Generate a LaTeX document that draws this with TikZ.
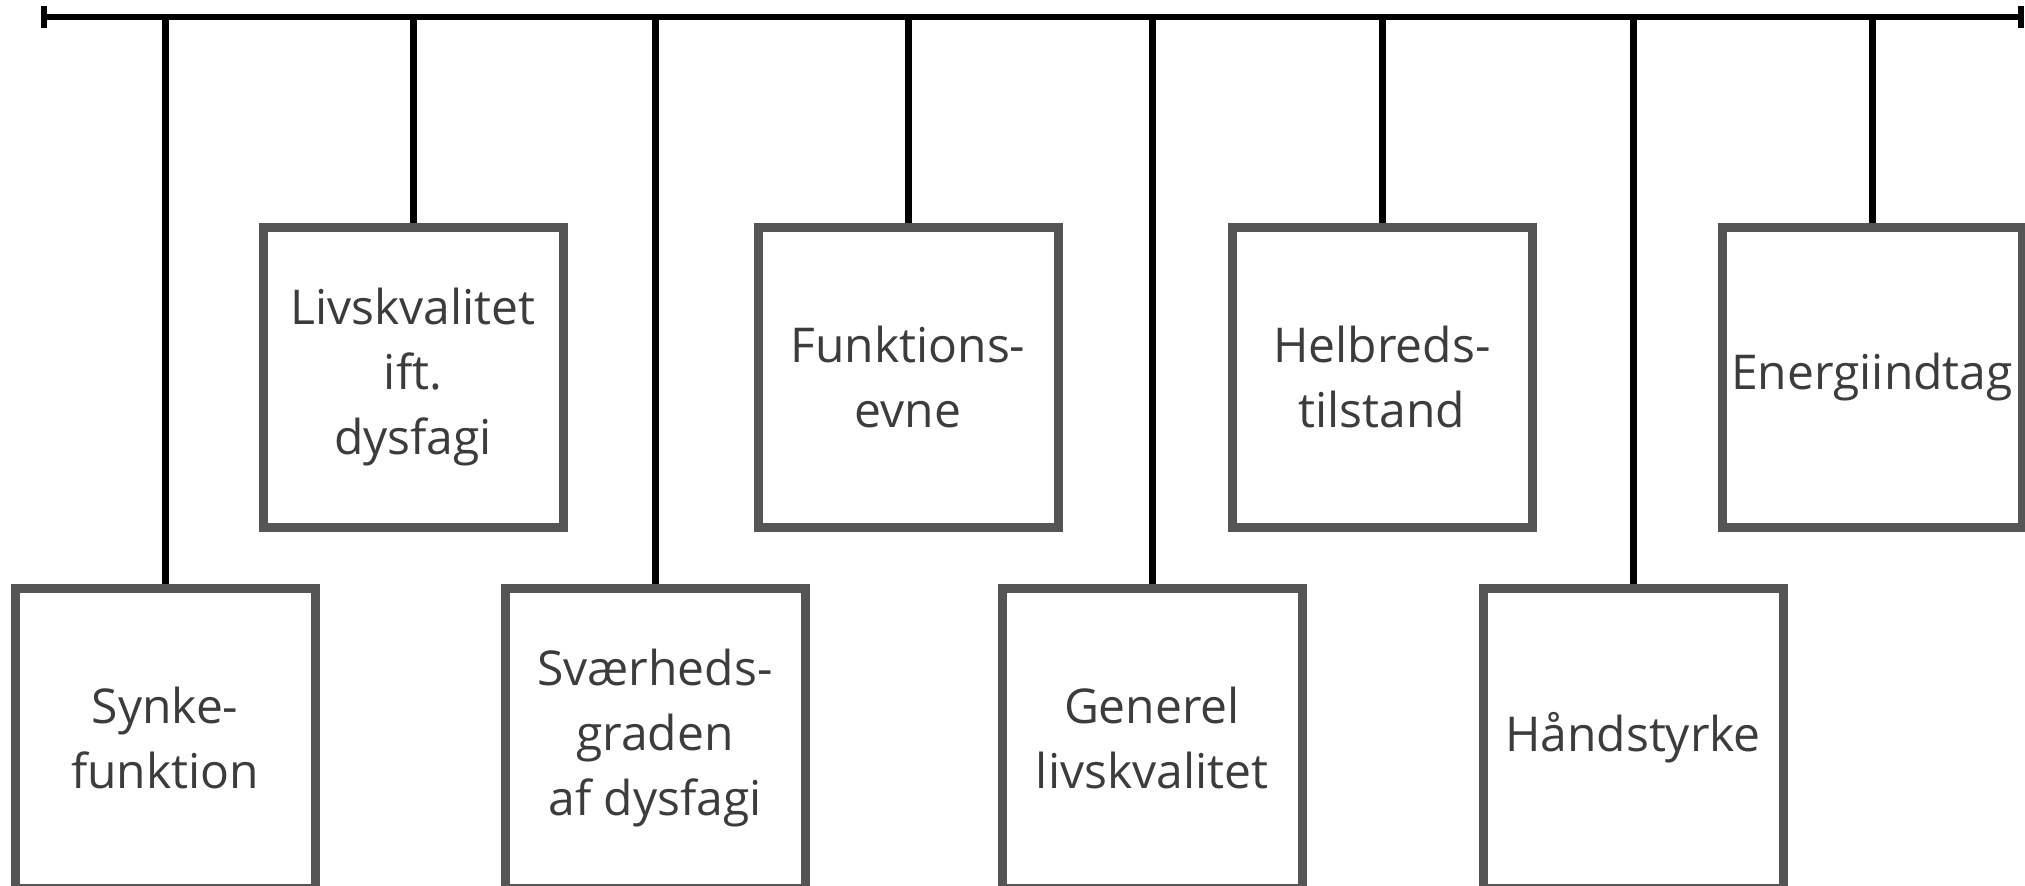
\documentclass[tikz,border=0pt]{standalone}
\usepackage{fontspec}
\setmainfont{Open Sans}
\usetikzlibrary{arrows.meta}
\definecolor{boxgray}{HTML}{555555}
\definecolor{txtgray}{HTML}{3C3C3C}

\begin{document}
\begin{tikzpicture}[x=0.5pt,y=-0.5pt,
   outcome/.style={draw=boxgray,line width=4.5pt,fill=white,inner sep=0pt,
                   minimum width=150pt,minimum height=150pt,align=center,
                   text=txtgray,font=\fontsize{24}{32.5}\selectfont},
   stem/.style={line width=3.5pt,line cap=butt}]
   \useasboundingbox (0,0) rectangle (2025,885);
   \coordinate (left)  at (41,17);
   \coordinate (right) at (2024,17);
   \node[outcome] (synke)  at (165,738)  {Synke-\\funktion};
   \node[outcome] (livs)   at (413,377)  {Livskvalitet\\ift.\\dysfagi};
   \node[outcome] (svaer)  at (655,738)  {Sværheds-\\graden\\af dysfagi};
   \node[outcome] (funk)   at (908,377)  {Funktions-\\evne};
   \node[outcome] (gen)    at (1152,738) {Generel\\livskvalitet};
   \node[outcome] (helb)   at (1382,377) {Helbreds-\\tilstand};
   \node[outcome] (haand)  at (1633,738) {Håndstyrke};
   \node[outcome] (energi) at (1872,377) {Energiindtag};
   \draw[line width=3pt,{Bar[width=11pt]}-{Bar[width=11pt]}] (left) -- (right);
   \foreach \n in {synke,livs,svaer,funk,gen,helb,haand,energi}
      \draw[stem] (\n.north |- left) -- (\n.north);
\end{tikzpicture}
\end{document}
